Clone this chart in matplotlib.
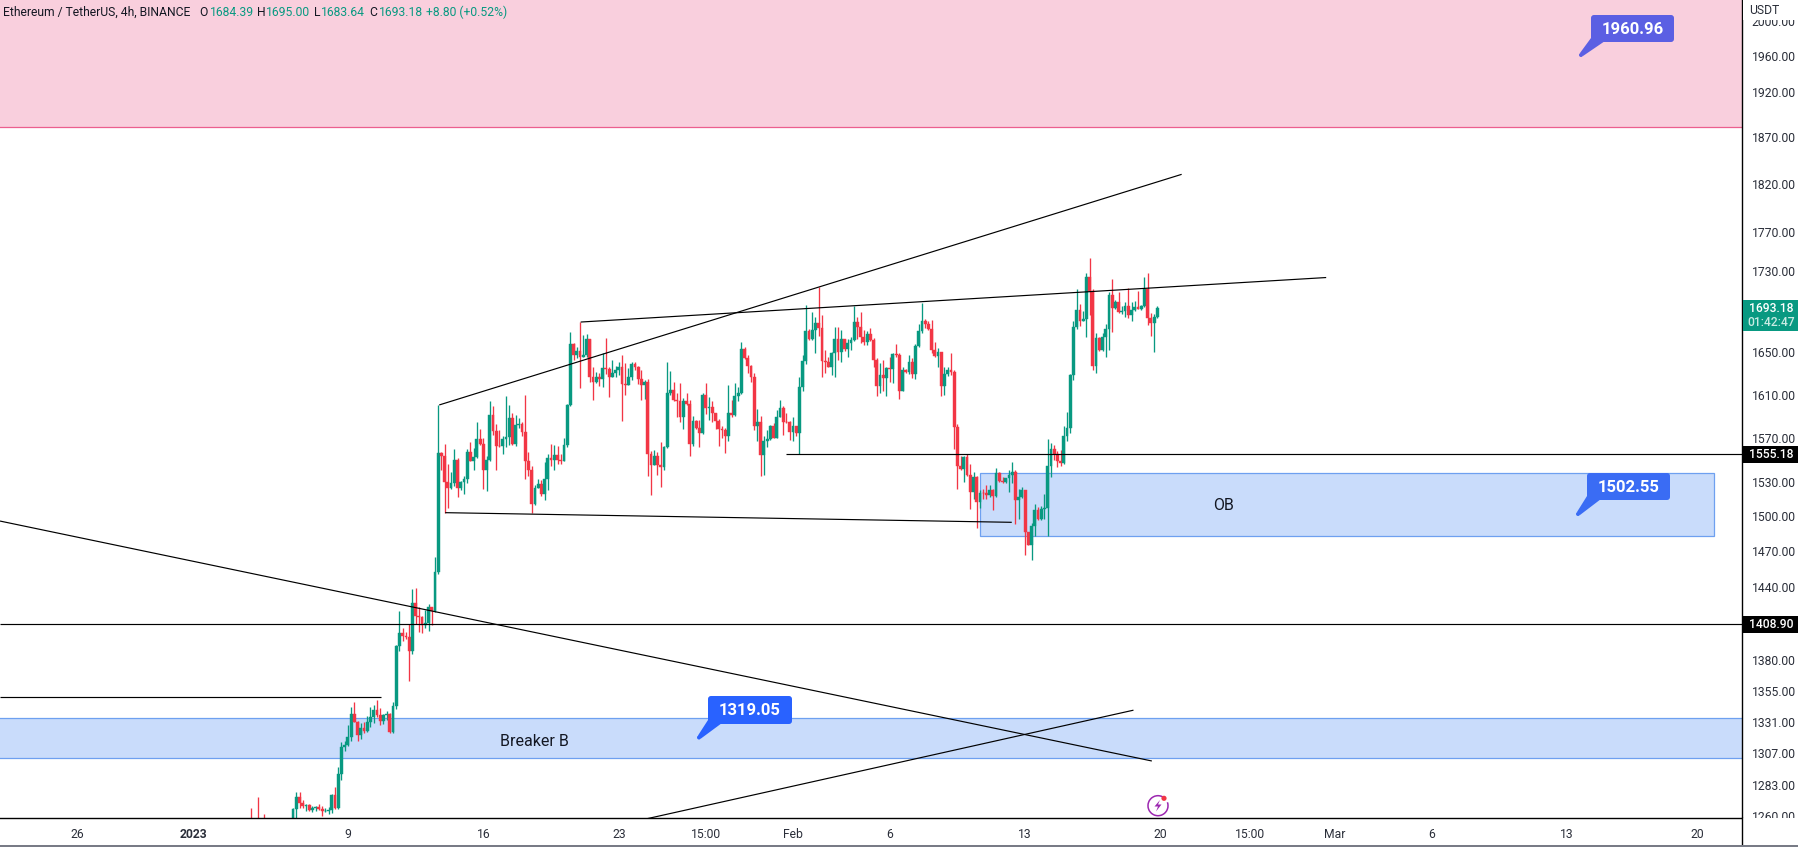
import matplotlib
matplotlib.use("Agg")
import matplotlib.pyplot as plt
from matplotlib.patches import Rectangle, FancyBboxPatch, Polygon, Circle, Arc
from matplotlib.transforms import IdentityTransform
from matplotlib.lines import Line2D

plt.rcParams['font.family'] = ['Roboto', 'DejaVu Sans']

W, H = 1799, 847
BULL, BEAR = '#089981', '#f23645'

# ---------- candle data (USDT), one 4h bar each, last bar = day 50.83 (Feb 19 20:00) ----------
first_open = 1252
closes = [
 1250,1248,1245,1248,1246,1247,1249,1246,1248,1250,1247,1249,1250,
 1265.2,1274.3,1270,1267.4,1268.4,1265,1266.5,1267.2,1265.7,1264,1264,1265,1276.2,1266,1291.5,1311.6,1313.1,1319.2,1337,1331,1321.2,1326.3,1324.3,1331,1335,1340.6,1336.5,1332,1336.5,1337.5,1323.3,1343.8,1391,1401.8,1399,1398.5,1387,1426.5,1415.7,1415,1408.3,1410,1423,1419.5,1452,1556.4,
 1553.4,1530,1524.6,1529.6,1550.4,1524.6,1530,1533,1557,1549.5,1552.8,1569.3,1564.8,1541.4,1550.4,1591.2,1576.8,1563,1562.5,1569.3,1570.8,1588.4,1564.8,1581.9,1582.8,1575.3,1549.5,1541.4,1510.5,1525.3,1528.8,1519.3,1533,1552,1550.4,1554.6,1549.8,1549.2,1563.6,1600.5,1658,
 1647.6,1651.4,1646,1647.6,1662.8,1626.4,1622.3,1626.4,1624.5,1634.9,1634,1627,1630.2,1633.3,1636.4,1620,1619,1627,1639,1635.8,1625,1619,1622,1555.2,1545.9,1554,1545.3,1543.5,1561.8,1611.4,1614.5,1604.7,1603.7,1588.8,1604.4,1601,1564.8,1585.6,1579,1574.3,1610,1597.5,1598.4,1592.8,1586,1578,1577.4,1571.4,1593.4,1591.2,1608.8,1611.4,1653.3,1644.4,1637,1627,1581.4,1584.5,1554.3,1567,1569,1580.5,1570.4,1589.7,1597.8,1585,1584.2,1575,1581,1574.3,1617.6,1642,1670.7,1662.8,1671.6,1678,1674,1642,1641,1636.4,1649.8,1663.4,1650.8,1662.8,1653,1658.7,1662,1679,1674.9,1664.4,1660.3,1667.8,
 1662,1643,1618.3,1628.6,1626,1634.9,1634.5,1648.4,1647.8,1613.6,1633.2,1631.6,1640.8,1629.5,1656,1670.6,1680.4,1677.5,1672.6,1652.3,1646.6,1650.4,1618.3,1629,1633.2,1631.6,1579.7,1545,1542.3,1552.8,1536.4,1521.7,1534.6,1512.5,1521,1520.4,1519.2,1522.8,1518.3,1538.4,1531,1530.2,1533.5,1536.4,1539.4,1514.3,1517,1522.8,1486.2,1475.5,1491.3,1505.3,1497.5,1506.2,1507.6,1545,1560,1555,1549,1547,1572,1579.4,1628.6,1674.3,1691,1680.8,1682.4,1723.5,1710.4,1637,1664,1652.3,1665,1672.6,1706,1693.5,1699.4,1689.6,1690.6,1695,1686,1691,1694.4,1692,1695,1711.7,1683.6,1678.7,1684.3,1693.18,
]
highs = [
 1266,1255,1274.3,1252,1261.6,1252,1253,1251,1252,1254,1252,1253,1254,
 1266.4,1278.3,1278,1272.5,1269,1269,1267.4,1268,1269,1267.4,1266.5,1267,1276.7,1281.9,1297,1315.7,1316.2,1329,1343,1346.4,1332.2,1330,1331,1336,1343,1344.3,1348.6,1341.7,1337,1340,1338,1346.4,1392.4,1420,1406,1402.5,1409.4,1438,1439,1423,1416,1421,1426,1423,1464.7,1600.5,
 1557.5,1564.8,1546.8,1539,1560.3,1552,1531,1535.4,1560.3,1566.3,1561,1584.7,1578,1570,1553.4,1604.3,1599.7,1582.6,1577.4,1572,1609,1600,1592.8,1591.2,1588,1584.3,1609.8,1557,1545,1528,1532.6,1532,1548,1555,1564.8,1564,1563,1555.5,1570,1601.5,1670,
 1659.5,1655,1679,1666.8,1667.7,1663.4,1636,1631.7,1630.8,1649.8,1663.9,1636.4,1642.8,1637,1641,1647.6,1639.6,1634.9,1641,1641,1637,1633.3,1624,1624.5,1558,1559.4,1557,1566.3,1562.4,1641,1632.4,1622,1611.4,1621.3,1606.8,1611.4,1605.2,1590.3,1586.5,1586.5,1611.4,1620.7,1608.2,1603.7,1593.4,1587,1580.5,1579,1619,1605.2,1620.7,1617.6,1659.7,1655,1647.6,1638,1630.8,1596.8,1590.3,1571.4,1577,1582,1583.5,1595.9,1605.2,1599,1592.8,1585.6,1589.7,1581.4,1627,1647.6,1696,1672.7,1689.6,1684.7,1714.4,1686.2,1652.4,1646,1650.8,1674.9,1674.9,1671.6,1663.4,1663.4,1664.4,1695,1684.7,1689.6,1671.7,1670.7,
 1673.2,1663.6,1644.3,1640.2,1643,1635.8,1646,1649,1658,1649.7,1635.8,1634,1647.5,1644.3,1658,1677.5,1698.4,1682.4,1680.8,1681.4,1660.3,1654,1650.7,1636.4,1635.8,1649.7,1633.2,1583,1553.4,1553.4,1555,1546.5,1539,1535.5,1523,1523.7,1527.3,1527.3,1523.7,1543,1539,1535,1534,1541.4,1548.6,1541.4,1523.7,1526,1523,1486.8,1494.7,1510.5,1508.5,1509,1520,1569,1565,1563.4,1558,1559.4,1580.5,1593.7,1629.5,1680,1711.7,1697,1690,1728.4,1743,1711.7,1669,1664.6,1669,1677.5,1709,1721.6,1701,1709,1695,1699.4,1712.7,1699.4,1700,1710,1696,1723.5,1727.7,1688,1687.3,1695,
]
lows = [
 1240,1240,1238,1240,1240,1240,1241,1240,1240,1242,1240,1241,1242,
 1250,1258,1266.5,1266,1264,1264,1263.5,1264,1264.5,1260.5,1263.5,1262,1262.5,1265.5,1265.2,1287.3,1308.6,1312.4,1316.2,1331,1316.7,1318,1322.5,1323.3,1327.6,1330,1334.7,1329,1329.5,1332.7,1322.3,1322.8,1341.2,1387,1395,1397.2,1363,1385,1409,1402.5,1402,1405.5,1403,1408.6,1419,1451,
 1541.4,1503.3,1507.6,1523.7,1527,1516.7,1523,1519.3,1529,1549,1541,1552,1564,1523.7,1522.3,1549.5,1573,1541.4,1562,1555.5,1561.5,1564,1564,1563,1579,1571.4,1533.3,1535.4,1502.7,1509.6,1525,1518,1514.4,1522.8,1544.4,1541.4,1546.5,1546,1549,1561.8,1599,
 1642.8,1644.4,1616.7,1645.3,1645.3,1622.3,1604.7,1621.3,1618.3,1617.6,1629.5,1607.4,1626.4,1627,1628.6,1586,1610,1619,1624,1633.3,1620,1604.7,1606,1535.4,1518.5,1545.9,1537,1525.7,1541.4,1561,1610,1604,1589.7,1584.2,1578,1600.5,1553.4,1563,1578.4,1561.5,1573.7,1592.2,1586.5,1585,1578,1562.4,1570,1556.4,1567,1589.7,1590.3,1603.7,1610.5,1643.8,1630.8,1622.3,1577.4,1567.5,1535.4,1537,1561.8,1568,1570,1570,1589,1572.3,1583.5,1568.4,1567.5,1571.4,1555.5,1613.9,1639,1662,1662,1649,1665.4,1627,1630.2,1635.8,1628.6,1626.4,1642.8,1641,1651.7,1645.3,1652.4,1661.2,1663.4,1658.7,1657,1657,
 1661.3,1636.4,1609.2,1612,1613,1609.2,1622.3,1620.8,1646,1605.5,1613.6,1630.7,1629.5,1625.5,1624.6,1654.8,1668.4,1673.2,1671.6,1649.7,1646,1636.4,1609.2,1610,1627.8,1628.6,1560,1524.5,1541.4,1530.2,1535.5,1506.2,1514.9,1490.4,1507.6,1514.9,1515.5,1517.2,1505.3,1517.2,1530.2,1529,1529.6,1521.4,1529.6,1493.2,1497.5,1516.4,1467,1475.3,1462.7,1483.3,1497,1497,1497.5,1483.3,1534.4,1549.8,1543.5,1544.4,1546.5,1567,1574.5,1624,1672.6,1675.5,1680.8,1665,1686,1633.2,1630.7,1651.3,1651.7,1646,1652.3,1670,1692,1688.6,1687.3,1684.6,1683,1680,1690.6,1691.8,1691,1693.8,1676.5,1665.8,1650.7,1683.64,
]
assert len(closes) == len(highs) == len(lows), (len(closes), len(highs), len(lows))

# ---------- axis data ----------
price_ticks = [2000,1960,1920,1870,1820,1770,1730,1650,1610,1570,1530,1500,1470,1440,1380,1355,1331,1307,1283,1260]
time_ticks = [-5,1,9,16,23,27.5,32,37,44,51,55.6,60,65,72,78.75]
time_labels = ['26','2023','9','16','23','15:00','Feb','6','13','20','15:00','Mar','6','13','20']
DAY_MIN, DAY_MAX = -8.98, 81.05
PRICE_MIN, PRICE_MAX = 1258.9, 2025.0

# ---------- drawings ----------
resistance_zone = (1880.6, 3000)
ob_zone = (41.68, 79.6, 1483, 1538.5)
breaker_zone = (1303.3, 1333.9)
trend_lines = [
    ((13.72, 52.09), (1600.4, 1829.9)),
    ((21.03, 59.56), (1679.4, 1723.4)),
    ((14.03, 43.31), (1503.3, 1494.9)),
    ((31.64, 81.05), (1555.18, 1555.18)),
    ((-8.98, 81.05), (1408.9, 1408.9)),
    ((-8.98, 10.71), (1350.9, 1350.9)),
    ((-8.98, 50.55), (1496.0, 1301.3)),
    ((24.4, 49.6), (1258.2, 1340.3)),
]
callouts = [  # text, colour, box left, top, right, bottom, tip x, tip y (pixels)
    ('1960.96', '#5b5fe3', 1591, 15, 1674, 42, 1581, 55),
    ('1502.55', '#3a6cf4', 1587, 473, 1670, 500, 1578, 514),
    ('1319.05', '#2962ff', 708, 696, 792, 724, 699, 737.5),
]

fig = plt.figure(figsize=(W / 100, H / 100), dpi=100, facecolor='white')
ax = fig.add_axes([0, 1 - 818 / H, 1742 / W, 818 / H])
ax.set_yscale('log')
ax.set_xlim(DAY_MIN, DAY_MAX)
ax.set_ylim(PRICE_MIN, PRICE_MAX)

# zones
ax.axhspan(*resistance_zone, facecolor='#f9cfdd', edgecolor='none', zorder=1)
ax.axhline(resistance_zone[0], color='#ec5f8e', lw=0.9, zorder=1.5)
ax.axhspan(*breaker_zone, facecolor='#c9dcfb', edgecolor='none', zorder=1)
for p in breaker_zone:
    ax.axhline(p, color='#6ea0f0', lw=0.9, zorder=1.5)
x0, x1, y0, y1 = ob_zone
ax.add_patch(Rectangle((x0, y0), x1 - x0, y1 - y0, facecolor='#c9dcfb', edgecolor='#6ea0f0', lw=0.9, zorder=1))

# candles
n = len(closes)
days = [50.8333 - (n - 1 - i) / 6 for i in range(n)]
opens = [first_open] + closes[:-1]
colors = [BULL if c >= o else BEAR for o, c in zip(opens, closes)]
ax.vlines(days, lows, highs, colors=colors, lw=0.95, zorder=2)
ax.bar(days, [abs(c - o) for o, c in zip(opens, closes)],
       bottom=[min(o, c) for o, c in zip(opens, closes)],
       width=0.145, color=colors, edgecolor=colors, lw=0.3, zorder=2.1)

# lines
for xs, ys in trend_lines:
    ax.plot(xs, ys, color='black', lw=0.85, zorder=3, solid_capstyle='butt')

# zone labels
ax.text(1224 / 1742, 1 - 505 / 818, 'OB', transform=ax.transAxes, ha='center', va='center', fontsize=11.5, color='#131722', zorder=4)
ax.text(534.6 / 1742, 1 - 741 / 818, 'Breaker B', transform=ax.transAxes, ha='center', va='center', fontsize=11.5, color='#131722', zorder=4)

# axes styling
for s in ('top', 'left'):
    ax.spines[s].set_visible(False)
for s in ('right', 'bottom'):
    ax.spines[s].set_color('black')
    ax.spines[s].set_linewidth(1.0)
    ax.spines[s].set_zorder(6)
ax.yaxis.tick_right()
ax.minorticks_off()
ax.set_yticks(price_ticks)
ax.set_yticklabels([f'{p:.2f}' for p in price_ticks])
ax.set_xticks(time_ticks)
ax.set_xticklabels(time_labels)
ax.tick_params(axis='y', length=0, pad=7, labelsize=8.7, labelcolor='#2a2e39')
ax.tick_params(axis='x', length=0, pad=7, labelsize=8.7, labelcolor='#2a2e39')
for lab in ax.get_xticklabels():
    if lab.get_text() == '2023':
        lab.set_fontweight('bold')
ax.minorticks_off()

ident = IdentityTransform()
def py(y):
    return H - y

# covers on the scales: USDT box on top, time strip under the pane
fig.add_artist(Rectangle((1743, py(20)), 56, 20, transform=ident, facecolor='white', edgecolor='none', zorder=1))
fig.text(1749 / W, 1 - 10 / H, 'USDT', fontsize=8.7, color='#2a2e39', va='center', ha='left', zorder=3)
fig.add_artist(Rectangle((1743, py(847)), 56, 29, transform=ident, facecolor='white', edgecolor='none', zorder=1))
fig.add_artist(Line2D([1742, 1742], [py(818), py(845)], transform=ident, color='black', lw=1.0, zorder=2))
fig.add_artist(Rectangle((0, 0), W, 2, transform=ident, facecolor='#787b86', edgecolor='none', zorder=2))

# price tags
def tag(y0, y1, color):
    fig.add_artist(Rectangle((1742.5, py(y1)), W - 1742.5, y1 - y0, transform=ident, facecolor=color, edgecolor='none', zorder=2))
tag(446, 463, 'black')
fig.text(1771 / W, 1 - 454.5 / H, '1555.18', color='white', fontsize=8.7, fontweight='medium', ha='center', va='center', zorder=3)
tag(616, 633, 'black')
fig.text(1771 / W, 1 - 624.5 / H, '1408.90', color='white', fontsize=8.7, fontweight='medium', ha='center', va='center', zorder=3)
tag(300, 331, BULL)
fig.text(1771 / W, 1 - 308.5 / H, '1693.18', color='white', fontsize=8.7, fontweight='medium', ha='center', va='center', zorder=3)
fig.text(1771 / W, 1 - 323 / H, '01:42:47', color='#c8ebe3', fontsize=8.7, fontweight='medium', ha='center', va='center', zorder=3)

# callouts
for txt, col, l, t, r, b, tx, ty in callouts:
    fig.add_artist(Polygon([(l, py(b - 4)), (l + 14, py(b - 1)), (tx + 2, py(ty + 1)), (tx - 1, py(ty - 2))], closed=True, transform=ident, facecolor=col, edgecolor='none', zorder=2))
    fig.add_artist(FancyBboxPatch((l + 3, py(b) + 3), r - l - 6, b - t - 6, boxstyle='round,pad=3,rounding_size=3', transform=ident, facecolor=col, edgecolor='none', zorder=2))
    fig.add_artist(Circle((tx, py(ty)), 2, transform=ident, facecolor=col, edgecolor='none', zorder=2))
    fig.text((l + r) / 2 / W, 1 - ((t + b) / 2 + 0.5) / H, txt, color='white', fontsize=12, fontweight='bold', ha='center', va='center', zorder=3)

# header legend
legend_parts = [
    (3, 'Ethereum / TetherUS, 4h, BINANCE', '#131722'),
    (199, 'O', '#131722'), (210, '1684.39', BULL),
    (257, 'H', '#131722'), (266, '1695.00', BULL),
    (314, 'L', '#131722'), (321, '1683.64', BULL),
    (369, 'C', '#131722'), (379, '1693.18', BULL),
    (426, '+8.80 (+0.52%)', BULL),
]
for x, txt, col in legend_parts:
    fig.text(x / W, 1 - 12 / H, txt, color=col, fontsize=8.7, ha='left', va='center', zorder=3)

# lightning marker
icon = '#9c27b0'
fig.add_artist(Arc((1158, py(805.7)), 20, 20, theta1=60, theta2=20, transform=ident, color=icon, lw=1.1, zorder=2))
fig.add_artist(Polygon([(1160, py(800)), (1154.5, py(806.5)), (1158, py(806.5)), (1156, py(811.5)),
                        (1161.5, py(804.5)), (1158, py(804.5))], closed=True, transform=ident, facecolor=icon, edgecolor='none', zorder=2))
fig.add_artist(Circle((1164, py(798.3)), 2.6, transform=ident, facecolor='#f23645', edgecolor='none', zorder=2))

fig.savefig('out.png', dpi=100, facecolor='white')
